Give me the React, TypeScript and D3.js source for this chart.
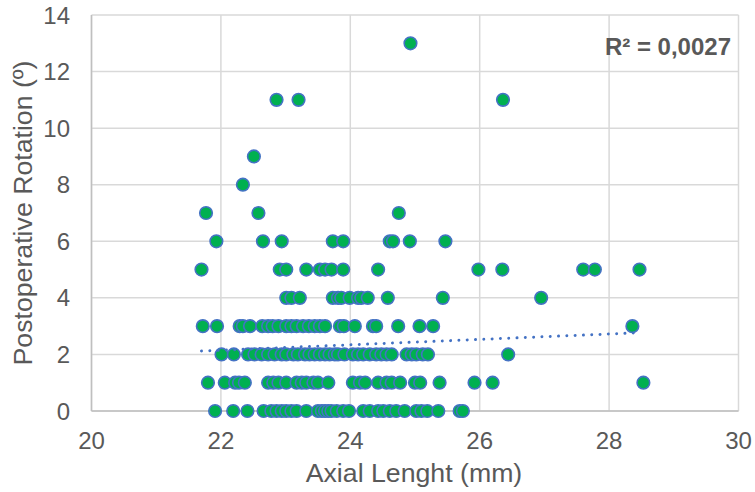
import React from "react";
import * as d3 from "d3";

// Axial length values (mm) grouped by postoperative rotation (º)
const rot0 = [21.91, 22.19, 22.41, 22.66, 22.78, 22.86, 22.94, 23.01, 23.09, 23.17, 23.32, 23.5, 23.56, 23.61, 23.66, 23.71, 23.79, 23.89, 23.98, 24.2, 24.3, 24.43, 24.51, 24.61, 24.71, 24.84, 25.02, 25.1, 25.19, 25.36, 25.69, 25.74];
const rot1 = [21.8, 22.06, 22.22, 22.28, 22.37, 22.73, 22.81, 22.89, 23.01, 23.17, 23.25, 23.32, 23.43, 23.5, 23.66, 24.04, 24.15, 24.23, 24.43, 24.56, 24.64, 24.77, 25.0, 25.08, 25.38, 25.92, 26.2, 28.53];
const rot2 = [22.01, 22.2, 22.42, 22.52, 22.63, 22.73, 22.83, 22.94, 23.01, 23.12, 23.19, 23.3, 23.37, 23.45, 23.53, 23.61, 23.68, 23.76, 23.81, 23.91, 24.04, 24.12, 24.2, 24.3, 24.4, 24.48, 24.56, 24.64, 24.87, 24.95, 25.02, 25.12, 25.2, 26.44];
const rot3 = [21.72, 21.94, 22.29, 22.34, 22.45, 22.64, 22.73, 22.8, 22.89, 23.01, 23.09, 23.17, 23.27, 23.36, 23.45, 23.53, 23.61, 23.84, 23.9, 24.07, 24.35, 24.4, 24.74, 25.07, 25.28, 28.36];
const rot4 = [23.01, 23.09, 23.22, 23.73, 23.81, 23.86, 23.99, 24.12, 24.17, 24.27, 24.58, 25.43, 26.95];
const rot5 = [21.7, 22.91, 23.01, 23.32, 23.53, 23.61, 23.71, 23.89, 24.43, 25.98, 26.35, 27.6, 27.78, 28.47];
const rot6 = [21.93, 22.65, 22.94, 23.73, 23.89, 24.61, 24.66, 24.92, 25.47];
const rot7 = [21.77, 22.58, 24.75];
const rot8 = [22.34];
const rot9 = [22.51];
const rot11 = [22.86, 23.2, 26.36];
const rot13 = [24.93];

const rotationGroups: [number, number[]][] = [
  [0, rot0], [1, rot1], [2, rot2], [3, rot3], [4, rot4], [5, rot5], [6, rot6],
  [7, rot7], [8, rot8], [9, rot9], [11, rot11], [13, rot13],
];

// linear trendline (as shown in the chart)
const trendAxial = [21.7, 28.5];
const trendRotation = [2.12, 2.77];

const xTicks = [20, 22, 24, 26, 28, 30];
const yTicks = [0, 2, 4, 6, 8, 10, 12, 14];
const r2Label = "R² = 0,0027";
const xTitle = "Axial Lenght (mm)";
const yTitle = "Postoperative Rotation (º)";

const W = 755;
const H = 492;
const M = { left: 91.5, right: 738.5, top: 15, bottom: 411 };
const FONT = "'Liberation Sans', Arial, sans-serif";

export default function App() {
  const x = d3.scaleLinear().domain([20, 30]).range([M.left, M.right]);
  const y = d3.scaleLinear().domain([0, 14]).range([M.bottom, M.top]);

  const points = rotationGroups.flatMap(([rv, xs]) => xs.map((a) => ({ a, r: rv })));

  const trend = d3
    .line<number>()
    .x((_, i) => x(trendAxial[i]))
    .y((v) => y(v))(trendRotation);

  return (
    <div style={{ position: "fixed", left: 0, top: 0 }}>
      <svg width={W} height={H} style={{ display: "block", background: "#fff" }} fontFamily={FONT}>
        {/* gridlines */}
        {yTicks.map((t) => (
          <line key={"gy" + t} x1={M.left} x2={M.right} y1={y(t)} y2={y(t)} stroke="#d9d9d9" strokeWidth={1.5} />
        ))}
        {xTicks.map((t) => (
          <line key={"gx" + t} x1={x(t)} x2={x(t)} y1={M.top} y2={M.bottom} stroke="#d9d9d9" strokeWidth={1.5} />
        ))}
        {/* axes */}
        <line x1={M.left} x2={M.left} y1={M.top} y2={M.bottom} stroke="#bfbfbf" strokeWidth={1.5} />
        <line x1={M.left} x2={M.right} y1={M.bottom} y2={M.bottom} stroke="#bfbfbf" strokeWidth={1.5} />

        {/* tick labels */}
        {yTicks.map((t) => (
          <text key={"ty" + t} x={70} y={y(t)} dy="0.36em" textAnchor="end" fontSize={24} fill="#595959">
            {t}
          </text>
        ))}
        {xTicks.map((t) => (
          <text key={"tx" + t} x={x(t)} y={449} textAnchor="middle" fontSize={24} fill="#595959">
            {t}
          </text>
        ))}

        {/* axis titles */}
        <text x={414} y={482} textAnchor="middle" fontSize={26.7} fill="#595959">{xTitle}</text>
        <text transform={`translate(32, 213) rotate(-90)`} textAnchor="middle" fontSize={26.7} fill="#595959">
          {yTitle}
        </text>

        {/* points */}
        {points.map((p, i) => (
          <circle key={i} cx={x(p.a)} cy={y(p.r)} r={6.3} fill="#00B050" stroke="#4472C4" strokeWidth={1.6} />
        ))}

        {/* trend line */}
        <path d={trend ?? ""} fill="none" stroke="#4472C4" strokeWidth={3} strokeDasharray="0.01 8.3" strokeLinecap="round" />

        <text x={731} y={55} textAnchor="end" fontSize={24} fontWeight="bold" fill="#595959">{r2Label}</text>
      </svg>
    </div>
  );
}
